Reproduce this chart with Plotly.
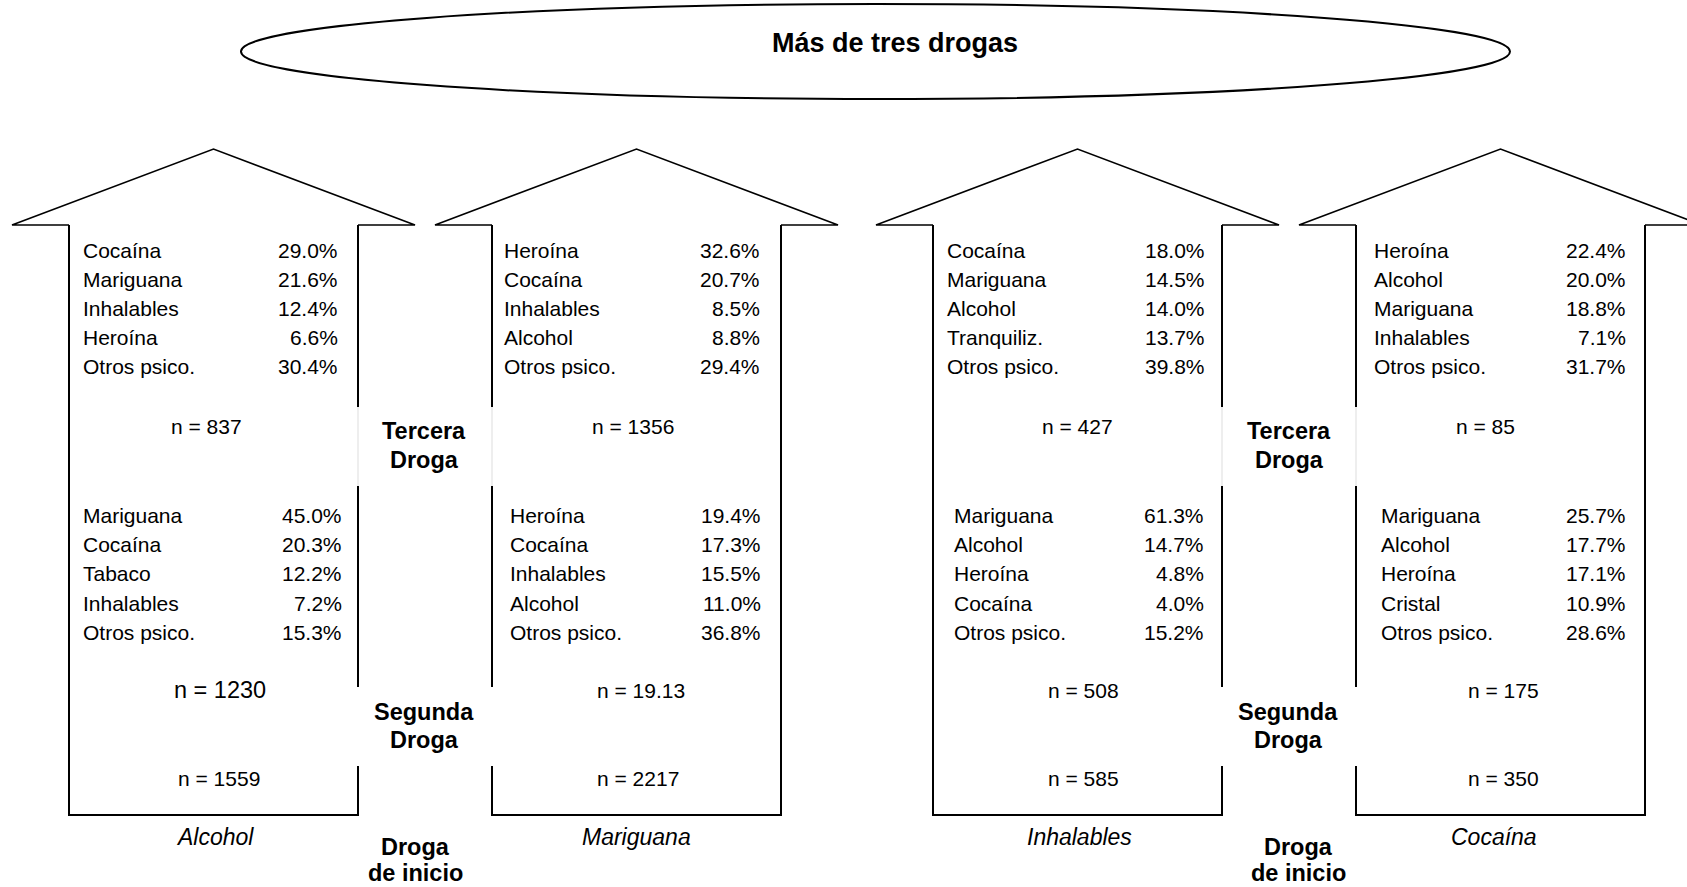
import plotly.graph_objects as go

# --- data ---
title_text = "Más de tres drogas"
start_drugs = ["Alcohol", "Mariguana", "Inhalables", "Cocaína"]

third_names = [
    ["Cocaína", "Mariguana", "Inhalables", "Heroína", "Otros psico."],
    ["Heroína", "Cocaína", "Inhalables", "Alcohol", "Otros psico."],
    ["Cocaína", "Mariguana", "Alcohol", "Tranquiliz.", "Otros psico."],
    ["Heroína", "Alcohol", "Mariguana", "Inhalables", "Otros psico."],
]
third_pct = [
    [29.0, 21.6, 12.4, 6.6, 30.4],
    [32.6, 20.7, 8.5, 8.8, 29.4],
    [18.0, 14.5, 14.0, 13.7, 39.8],
    [22.4, 20.0, 18.8, 7.1, 31.7],
]
third_n = ["837", "1356", "427", "85"]

second_names = [
    ["Mariguana", "Cocaína", "Tabaco", "Inhalables", "Otros psico."],
    ["Heroína", "Cocaína", "Inhalables", "Alcohol", "Otros psico."],
    ["Mariguana", "Alcohol", "Heroína", "Cocaína", "Otros psico."],
    ["Mariguana", "Alcohol", "Heroína", "Cristal", "Otros psico."],
]
second_pct = [
    [45.0, 20.3, 12.2, 7.2, 15.3],
    [19.4, 17.3, 15.5, 11.0, 36.8],
    [61.3, 14.7, 4.8, 4.0, 15.2],
    [25.7, 17.7, 17.1, 10.9, 28.6],
]
second_n = ["1230", "19.13", "508", "175"]
start_n = ["1559", "2217", "585", "350"]

stage_labels = [["Tercera", "Droga"], ["Segunda", "Droga"], ["Droga", "de inicio"]]

# --- layout geometry (pixels) ---
W, H = 1687, 887
FONT = "Liberation Sans, Arial, sans-serif"
shaft_left = [69, 492, 933, 1356]
shaft_w = 289
head_out = 57
tip_y, base_y, bottom_y = 149, 225, 815
gaps = [(407, 486), (687, 766)]
inner_side = ["right", "left", "right", "left"]

third_x = [(81, 340), (502, 762), (945, 1207), (1372, 1628)]
second_x = [(81, 344), (508, 763), (952, 1206), (1379, 1628)]
third_row_y = [250, 279, 308, 337, 366]
second_row_y = [515, 544, 573, 603, 632]
third_n_x = [206, 633, 1077, 1485]
second_n_x = [220, 641, 1083, 1503]
start_n_x = [219, 638, 1083, 1503]
start_x = [215, 636, 1079, 1494]
stage_x = [(424, 1289), (424, 1288), (415, 1298)]
stage_y = [(431, 460), (712, 740), (847, 873)]

fig = go.Figure()
line_style = dict(color="black", width=2)

for i, xl in enumerate(shaft_left):
    xr = xl + shaft_w
    xc = (xl + xr) / 2
    # arrow head
    fig.add_trace(go.Scatter(
        x=[xl, xl - head_out, xc, xr + head_out, xr],
        y=[base_y, base_y, tip_y, base_y, base_y],
        mode="lines", line=dict(color="black", width=1.6), hoverinfo="skip"))
    # outer side, bottom and inner side (with gaps for the stage labels)
    xo = xl if inner_side[i] == "right" else xr
    xi = xr if inner_side[i] == "right" else xl
    fig.add_trace(go.Scatter(
        x=[xo, xo, xi, xi], y=[base_y, bottom_y, bottom_y, gaps[1][1]],
        mode="lines", line=line_style, hoverinfo="skip"))
    segs_y = [base_y, gaps[0][0], None, gaps[0][1], gaps[1][0]]
    fig.add_trace(go.Scatter(
        x=[xi, xi, None, xi, xi], y=segs_y,
        mode="lines", line=line_style, hoverinfo="skip"))
    # faint edge of the label box inside the upper gap
    fig.add_trace(go.Scatter(
        x=[xi, xi], y=[gaps[0][0], gaps[0][1]],
        mode="lines", line=dict(color="#dddddd", width=1), hoverinfo="skip"))

annotations = []


def add_text(x, y, text, size=21, anchor="left", bold=False, italic=False):
    if bold:
        text = "<b>" + text + "</b>"
    if italic:
        text = "<i>" + text + "</i>"
    annotations.append(dict(
        x=x, y=y, xref="x", yref="y", text=text, showarrow=False,
        xanchor=anchor, yanchor="middle", align="center",
        font=dict(family=FONT, size=size, color="black")))


for i in range(4):
    for j in range(5):
        add_text(third_x[i][0], third_row_y[j], third_names[i][j])
        add_text(third_x[i][1], third_row_y[j], f"{third_pct[i][j]:.1f}%", anchor="right")
        add_text(second_x[i][0], second_row_y[j], second_names[i][j])
        add_text(second_x[i][1], second_row_y[j], f"{second_pct[i][j]:.1f}%", anchor="right")
    add_text(third_n_x[i], 426, "n = " + third_n[i], anchor="center")
    add_text(second_n_x[i], 690, "n = " + second_n[i], anchor="center",
             size=23.5 if i == 0 else 21)
    add_text(start_n_x[i], 778, "n = " + start_n[i], anchor="center")
    add_text(start_x[i], 837, start_drugs[i], size=23, anchor="center", italic=True)

for k, lines in enumerate(stage_labels):
    for x in stage_x[k]:
        for txt, y in zip(lines, stage_y[k]):
            add_text(x, y, txt, size=23.5, anchor="center", bold=True)

add_text(895, 43, title_text, size=27, anchor="center", bold=True)

fig.update_layout(
    width=W, height=H,
    margin=dict(l=0, r=0, t=0, b=0),
    paper_bgcolor="white", plot_bgcolor="white",
    showlegend=False,
    xaxis=dict(range=[0, W], visible=False, fixedrange=True),
    yaxis=dict(range=[H, 0], visible=False, fixedrange=True),
    annotations=annotations,
    shapes=[dict(type="circle", xref="x", yref="y", x0=241, x1=1510, y0=4, y1=99,
                 line=dict(color="black", width=2))],
)

fig.write_html("out.html", config={"displayModeBar": False},
               post_script="document.body.style.margin='0';")
